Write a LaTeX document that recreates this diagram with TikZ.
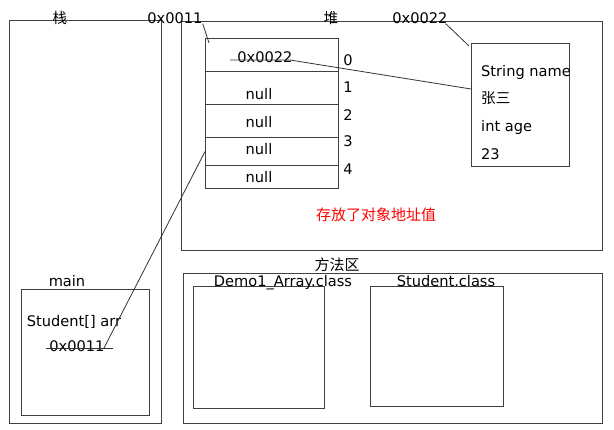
\documentclass[tikz,border=0pt]{standalone}
\usepackage{fontspec}
\setmainfont{DejaVu Sans}
\newfontfamily\cjk{Noto Sans CJK SC}
\begin{document}
\begin{tikzpicture}[x=1pt, y=-1pt,
    every node/.style={font=\fontsize{14.6}{16}\selectfont, inner sep=0pt},
    frame/.style={draw=black!75, line width=1pt},
    cell/.style={draw=black!75, line width=1pt, minimum width=133pt, anchor=north west},
    link/.style={draw=black!80, line width=0.8pt}]
      \useasboundingbox (0,0) rectangle (614,430);

      \draw[frame] (9,21) rectangle (161,424);
      \draw[frame] (181,22) rectangle (602,251);
      \draw[frame] (183,274) rectangle (602,424);
      \draw[frame] (21,290) rectangle (149,416);
      \draw[frame] (193,287) rectangle (324,409);
      \draw[frame] (370,287) rectangle (503,407);

      \node (stack) at (60,18) {\cjk 栈};
      \node (addr1) at (175,18) {0x0011};
      \node (heap) at (331,18) {\cjk 堆};
      \node (addr2) at (420,18) {0x0022};

      \node[cell, minimum height=33pt] (c0) at (205,38) {};
      \node[cell, minimum height=33pt] (c1) at (205,71) {};
      \node[cell, minimum height=33pt] (c2) at (205,104) {};
      \node[cell, minimum height=28pt] (c3) at (205,137) {};
      \node[cell, minimum height=23pt] (c4) at (205,165) {};
      \node (v0) at (265,57) {0x0022};
      \node (v1) at (259,94) {null};
      \node (v2) at (259,122) {null};
      \node (v3) at (259,149) {null};
      \node (v4) at (259,177) {null};
      \foreach \i/\y in {0/60,1/87,2/115,3/141,4/169}
        \node (i\i) at (348,\y) {\i};

      \node[draw=black!75, line width=1pt, minimum width=98pt, minimum height=123pt,
            anchor=north west] (obj) at (471,43) {};
      \node[anchor=west] (f1) at (481,72) {String name};
      \node[anchor=west] (f2) at (481,98) {\cjk 张三};
      \node[anchor=west] (f3) at (481,127) {int age};
      \node[anchor=west] (f4) at (481,154) {23};

      \node[red] (note) at (376,215) {\cjk\fontsize{15}{17}\selectfont 存放了对象地址值};

      \node (method) at (337,265) {\cjk\fontsize{15}{17}\selectfont 方法区};
      \node (demo) at (283,283) {Demo1\_Array.class};
      \node (student) at (446,281) {Student.class};

      \node (main) at (67,281) {main};
      \node (arrname) at (74,322) {Student[] arr};
      \node (arrval) at (77,346) {0x0011};

      \coordinate (s0) at (230,60);
      \coordinate (s1) at (290,60);
      \coordinate (m0) at (46,348);
      \coordinate (m1) at (104,348);
      \coordinate (t0) at (471,89);

      \draw[link] (addr1.south east) -- ([shift={(4,5)}]c0.north west);
      \draw[link] ([xshift=-2pt]addr2.south east) -- ([shift={(-2,3)}]obj.north west);
      \draw[link] (s0) -- (s1) -- (t0);
      \draw[link] (m0) -- (113,348);
      \draw[link] (m1) -- (c3.west);
    \end{tikzpicture}
\end{document}
